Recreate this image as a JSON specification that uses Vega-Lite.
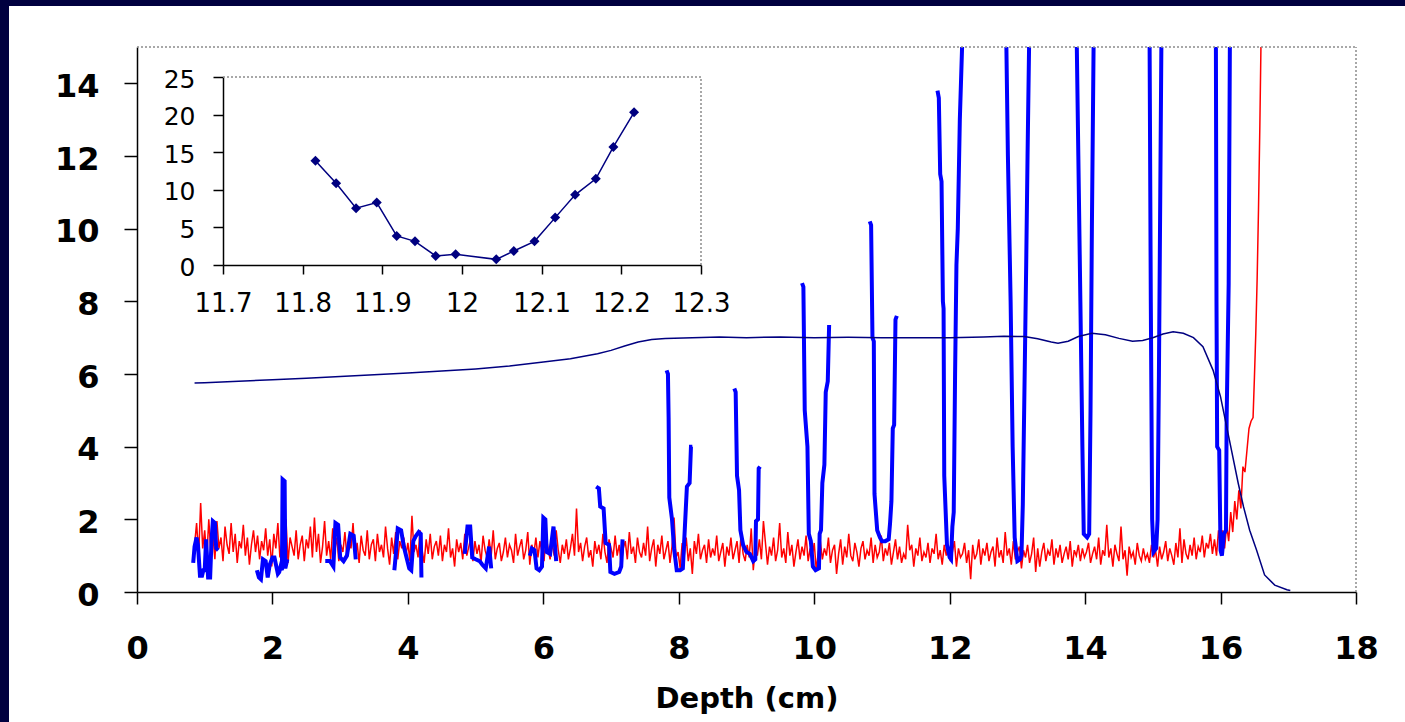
{
"$schema":"https://vega.github.io/schema/vega-lite/v6.json",
"width":1219,"height":545,"autosize":"none",
"padding":{"left":137,"top":47,"right":49,"bottom":130},
"background":"#ffffff",
"config":{"view":{"stroke":null},"axis":{"grid":false,"labelFont":"DejaVu Sans","titleFont":"DejaVu Sans","domainColor":"#000000","tickColor":"#000000","labelColor":"#000000","titleColor":"#000000","labelFlush":false,"labelOverlap":false}},
"datasets":{
"red":[
{"x":0.85,"y":1.3},{"x":0.88,"y":1.9},{"x":0.91,"y":1.0},{"x":0.94,"y":2.45},{"x":0.97,"y":1.2},{"x":1.0,"y":1.7},{"x":1.03,"y":0.9},{"x":1.06,"y":2.0},{"x":1.09,"y":1.1},{"x":1.12,"y":1.6},
{"x":1.15,"y":0.9},{"x":1.18,"y":1.95},{"x":1.21,"y":1.2},{"x":1.24,"y":1.5},{"x":1.27,"y":0.85},{"x":1.3,"y":1.8},{"x":1.33,"y":1.3},{"x":1.36,"y":1.05},{"x":1.39,"y":1.9},{"x":1.42,"y":1.1},
{"x":1.45,"y":1.6},{"x":1.48,"y":0.8},{"x":1.51,"y":1.4},{"x":1.54,"y":1.2},{"x":1.57,"y":1.85},{"x":1.6,"y":1.0},{"x":1.63,"y":1.5},{"x":1.66,"y":0.75},{"x":1.69,"y":1.3},{"x":1.72,"y":1.7},
{"x":1.75,"y":1.1},{"x":1.78,"y":1.55},{"x":1.81,"y":0.9},{"x":1.84,"y":1.4},{"x":1.87,"y":1.15},{"x":1.9,"y":1.75},{"x":1.93,"y":1.0},{"x":1.96,"y":1.45},{"x":1.99,"y":0.7},{"x":2.02,"y":1.6},
{"x":2.05,"y":1.2},{"x":2.08,"y":1.9},{"x":2.11,"y":0.95},{"x":2.14,"y":1.35},{"x":2.17,"y":1.1},{"x":2.2,"y":2.0},{"x":2.23,"y":0.8},{"x":2.26,"y":1.5},{"x":2.29,"y":1.25},{"x":2.32,"y":1.0},
{"x":2.35,"y":1.7},{"x":2.38,"y":0.9},{"x":2.41,"y":1.3},{"x":2.44,"y":1.55},{"x":2.47,"y":0.85},{"x":2.5,"y":1.45},{"x":2.53,"y":1.2},{"x":2.56,"y":1.8},{"x":2.59,"y":0.95},{"x":2.62,"y":2.05},
{"x":2.65,"y":1.1},{"x":2.68,"y":1.6},{"x":2.71,"y":0.8},{"x":2.74,"y":1.25},{"x":2.77,"y":1.95},{"x":2.8,"y":1.0},{"x":2.83,"y":1.4},{"x":2.86,"y":0.9},{"x":2.89,"y":1.75},{"x":2.92,"y":1.15},
{"x":2.95,"y":1.5},{"x":2.98,"y":0.85},{"x":3.01,"y":1.3},{"x":3.04,"y":1.1},{"x":3.07,"y":1.65},{"x":3.1,"y":0.95},{"x":3.13,"y":1.4},{"x":3.16,"y":1.2},{"x":3.19,"y":1.9},{"x":3.22,"y":1.0},
{"x":3.25,"y":1.35},{"x":3.28,"y":0.8},{"x":3.31,"y":1.55},{"x":3.34,"y":1.15},{"x":3.37,"y":1.0},{"x":3.4,"y":1.7},{"x":3.43,"y":0.9},{"x":3.46,"y":1.3},{"x":3.49,"y":1.45},{"x":3.52,"y":0.85},
{"x":3.55,"y":1.6},{"x":3.58,"y":1.1},{"x":3.61,"y":1.3},{"x":3.64,"y":0.95},{"x":3.67,"y":1.8},{"x":3.7,"y":1.2},{"x":3.73,"y":0.75},{"x":3.76,"y":1.5},{"x":3.79,"y":1.05},{"x":3.82,"y":1.65},
{"x":3.85,"y":0.9},{"x":3.88,"y":1.4},{"x":3.91,"y":1.2},{"x":3.94,"y":1.5},{"x":3.97,"y":1.0},{"x":4.0,"y":1.35},{"x":4.03,"y":0.85},{"x":4.06,"y":2.1},{"x":4.09,"y":1.1},{"x":4.12,"y":1.3},
{"x":4.15,"y":0.95},{"x":4.18,"y":1.7},{"x":4.21,"y":1.15},{"x":4.24,"y":0.8},{"x":4.27,"y":1.45},{"x":4.3,"y":1.05},{"x":4.33,"y":1.6},{"x":4.36,"y":0.9},{"x":4.39,"y":1.25},{"x":4.42,"y":1.4},
{"x":4.45,"y":1.0},{"x":4.48,"y":1.55},{"x":4.51,"y":0.85},{"x":4.54,"y":1.3},{"x":4.57,"y":1.1},{"x":4.6,"y":1.75},{"x":4.63,"y":0.95},{"x":4.66,"y":1.2},{"x":4.69,"y":0.7},{"x":4.72,"y":1.45},
{"x":4.75,"y":1.1},{"x":4.78,"y":1.35},{"x":4.81,"y":0.9},{"x":4.84,"y":1.6},{"x":4.87,"y":1.0},{"x":4.9,"y":1.25},{"x":4.93,"y":1.5},{"x":4.96,"y":0.85},{"x":4.99,"y":1.4},{"x":5.02,"y":1.05},
{"x":5.05,"y":1.3},{"x":5.08,"y":0.8},{"x":5.11,"y":1.55},{"x":5.14,"y":1.15},{"x":5.17,"y":0.95},{"x":5.2,"y":1.45},{"x":5.23,"y":1.0},{"x":5.26,"y":1.7},{"x":5.29,"y":0.9},{"x":5.32,"y":1.2},
{"x":5.35,"y":1.35},{"x":5.38,"y":0.85},{"x":5.41,"y":1.1},{"x":5.44,"y":1.5},{"x":5.47,"y":0.95},{"x":5.5,"y":1.3},{"x":5.53,"y":1.15},{"x":5.56,"y":0.8},{"x":5.59,"y":1.6},{"x":5.62,"y":1.0},
{"x":5.65,"y":1.25},{"x":5.68,"y":1.45},{"x":5.71,"y":0.9},{"x":5.74,"y":1.15},{"x":5.77,"y":1.65},{"x":5.8,"y":0.75},{"x":5.83,"y":1.3},{"x":5.86,"y":1.05},{"x":5.89,"y":1.5},{"x":5.92,"y":0.95},
{"x":5.95,"y":1.4},{"x":5.98,"y":1.1},{"x":6.01,"y":0.85},{"x":6.04,"y":1.55},{"x":6.07,"y":1.2},{"x":6.1,"y":0.9},{"x":6.13,"y":1.35},{"x":6.16,"y":1.0},{"x":6.19,"y":1.7},{"x":6.22,"y":1.15},
{"x":6.25,"y":0.8},{"x":6.28,"y":1.3},{"x":6.31,"y":1.05},{"x":6.34,"y":1.45},{"x":6.37,"y":0.9},{"x":6.4,"y":1.2},{"x":6.43,"y":1.6},{"x":6.46,"y":1.0},{"x":6.49,"y":2.3},{"x":6.52,"y":1.1},
{"x":6.55,"y":1.35},{"x":6.58,"y":0.85},{"x":6.61,"y":1.25},{"x":6.64,"y":1.5},{"x":6.67,"y":0.95},{"x":6.7,"y":1.15},{"x":6.73,"y":0.7},{"x":6.76,"y":1.4},{"x":6.79,"y":1.05},{"x":6.82,"y":1.3},
{"x":6.85,"y":0.9},{"x":6.88,"y":1.6},{"x":6.91,"y":1.1},{"x":6.94,"y":0.8},{"x":6.97,"y":1.45},{"x":7.0,"y":1.2},{"x":7.03,"y":0.95},{"x":7.06,"y":1.55},{"x":7.09,"y":1.0},{"x":7.12,"y":1.3},
{"x":7.15,"y":0.75},{"x":7.18,"y":1.2},{"x":7.21,"y":1.4},{"x":7.24,"y":0.9},{"x":7.27,"y":1.65},{"x":7.3,"y":1.05},{"x":7.33,"y":1.25},{"x":7.36,"y":0.8},{"x":7.39,"y":1.5},{"x":7.42,"y":1.1},
{"x":7.45,"y":0.95},{"x":7.48,"y":1.35},{"x":7.51,"y":1.0},{"x":7.54,"y":1.8},{"x":7.57,"y":0.85},{"x":7.6,"y":1.2},{"x":7.63,"y":1.45},{"x":7.66,"y":0.7},{"x":7.69,"y":1.3},{"x":7.72,"y":1.05},
{"x":7.75,"y":1.55},{"x":7.78,"y":0.9},{"x":7.81,"y":1.15},{"x":7.84,"y":1.4},{"x":7.87,"y":0.8},{"x":7.9,"y":1.25},{"x":7.93,"y":2.05},{"x":7.96,"y":0.95},{"x":7.99,"y":1.1},{"x":8.02,"y":0.65},
{"x":8.05,"y":1.35},{"x":8.08,"y":1.0},{"x":8.11,"y":1.5},{"x":8.14,"y":0.85},{"x":8.17,"y":1.2},{"x":8.2,"y":0.5},{"x":8.23,"y":1.4},{"x":8.26,"y":1.05},{"x":8.29,"y":1.6},{"x":8.32,"y":0.9},
{"x":8.35,"y":1.15},{"x":8.38,"y":1.3},{"x":8.41,"y":0.8},{"x":8.44,"y":1.45},{"x":8.47,"y":0.95},{"x":8.5,"y":1.2},{"x":8.53,"y":1.0},{"x":8.56,"y":1.55},{"x":8.59,"y":0.85},{"x":8.62,"y":1.1},
{"x":8.65,"y":1.35},{"x":8.68,"y":0.7},{"x":8.71,"y":1.25},{"x":8.74,"y":1.0},{"x":8.77,"y":1.5},{"x":8.8,"y":0.9},{"x":8.83,"y":1.15},{"x":8.86,"y":1.4},{"x":8.89,"y":0.8},{"x":8.92,"y":1.6},
{"x":8.95,"y":1.05},{"x":8.98,"y":0.85},{"x":9.01,"y":1.3},{"x":9.04,"y":0.95},{"x":9.07,"y":1.75},{"x":9.1,"y":0.6},{"x":9.13,"y":1.2},{"x":9.16,"y":1.0},{"x":9.19,"y":1.45},{"x":9.22,"y":0.9},
{"x":9.25,"y":1.95},{"x":9.28,"y":1.35},{"x":9.31,"y":0.75},{"x":9.34,"y":1.25},{"x":9.37,"y":1.0},{"x":9.4,"y":1.5},{"x":9.43,"y":0.85},{"x":9.46,"y":1.15},{"x":9.49,"y":1.9},{"x":9.52,"y":0.95},
{"x":9.55,"y":1.2},{"x":9.58,"y":0.8},{"x":9.61,"y":1.65},{"x":9.64,"y":1.0},{"x":9.67,"y":1.3},{"x":9.7,"y":0.7},{"x":9.73,"y":1.1},{"x":9.76,"y":1.45},{"x":9.79,"y":0.9},{"x":9.82,"y":1.25},
{"x":9.85,"y":1.0},{"x":9.88,"y":1.55},{"x":9.91,"y":0.85},{"x":9.94,"y":1.2},{"x":9.97,"y":0.95},{"x":10.0,"y":1.35},{"x":10.03,"y":0.6},{"x":10.06,"y":1.1},{"x":10.09,"y":1.4},{"x":10.12,"y":0.9},
{"x":10.15,"y":1.2},{"x":10.18,"y":1.0},{"x":10.21,"y":1.5},{"x":10.24,"y":0.8},{"x":10.27,"y":1.15},{"x":10.3,"y":1.3},{"x":10.33,"y":0.5},{"x":10.36,"y":1.05},{"x":10.39,"y":1.45},{"x":10.42,"y":0.75},
{"x":10.45,"y":1.25},{"x":10.48,"y":0.95},{"x":10.51,"y":1.6},{"x":10.54,"y":1.0},{"x":10.57,"y":0.85},{"x":10.6,"y":1.35},{"x":10.63,"y":1.1},{"x":10.66,"y":0.7},{"x":10.69,"y":1.2},{"x":10.72,"y":1.4},
{"x":10.75,"y":0.9},{"x":10.78,"y":1.15},{"x":10.81,"y":1.0},{"x":10.84,"y":1.5},{"x":10.87,"y":0.8},{"x":10.9,"y":1.3},{"x":10.93,"y":0.95},{"x":10.96,"y":1.1},{"x":10.99,"y":1.55},{"x":11.02,"y":0.85},
{"x":11.05,"y":1.2},{"x":11.08,"y":1.0},{"x":11.11,"y":1.35},{"x":11.14,"y":0.75},{"x":11.17,"y":1.1},{"x":11.2,"y":1.45},{"x":11.23,"y":0.9},{"x":11.26,"y":1.25},{"x":11.29,"y":0.8},{"x":11.32,"y":1.05},
{"x":11.35,"y":0.9},{"x":11.38,"y":1.85},{"x":11.41,"y":1.15},{"x":11.44,"y":1.3},{"x":11.47,"y":0.7},{"x":11.5,"y":1.2},{"x":11.53,"y":1.0},{"x":11.56,"y":1.5},{"x":11.59,"y":0.85},{"x":11.62,"y":1.1},
{"x":11.65,"y":0.95},{"x":11.68,"y":1.35},{"x":11.71,"y":0.8},{"x":11.74,"y":1.2},{"x":11.77,"y":1.05},{"x":11.8,"y":1.6},{"x":11.83,"y":0.9},{"x":11.86,"y":1.15},{"x":11.89,"y":0.75},{"x":11.92,"y":1.3},
{"x":11.95,"y":1.0},{"x":11.98,"y":1.25},{"x":12.01,"y":0.85},{"x":12.04,"y":1.1},{"x":12.07,"y":1.4},{"x":12.1,"y":0.7},{"x":12.13,"y":1.2},{"x":12.16,"y":0.95},{"x":12.19,"y":1.05},{"x":12.22,"y":1.35},
{"x":12.25,"y":0.8},{"x":12.28,"y":1.15},{"x":12.31,"y":0.35},{"x":12.34,"y":1.3},{"x":12.37,"y":0.9},{"x":12.4,"y":1.05},{"x":12.43,"y":1.45},{"x":12.46,"y":0.75},{"x":12.49,"y":1.2},{"x":12.52,"y":1.0},
{"x":12.55,"y":1.35},{"x":12.58,"y":0.85},{"x":12.61,"y":1.1},{"x":12.64,"y":1.25},{"x":12.67,"y":0.7},{"x":12.7,"y":1.5},{"x":12.73,"y":0.95},{"x":12.76,"y":1.15},{"x":12.79,"y":0.8},{"x":12.82,"y":1.65},
{"x":12.85,"y":1.0},{"x":12.88,"y":1.2},{"x":12.91,"y":0.75},{"x":12.94,"y":1.4},{"x":12.97,"y":0.9},{"x":13.0,"y":1.1},{"x":13.03,"y":1.25},{"x":13.06,"y":0.65},{"x":13.09,"y":1.15},{"x":13.12,"y":0.95},
{"x":13.15,"y":1.3},{"x":13.18,"y":0.8},{"x":13.21,"y":1.05},{"x":13.24,"y":1.5},{"x":13.27,"y":0.55},{"x":13.3,"y":1.2},{"x":13.33,"y":0.7},{"x":13.36,"y":1.1},{"x":13.39,"y":1.35},{"x":13.42,"y":0.85},
{"x":13.45,"y":1.15},{"x":13.48,"y":1.0},{"x":13.51,"y":1.45},{"x":13.54,"y":0.75},{"x":13.57,"y":1.2},{"x":13.6,"y":0.95},{"x":13.63,"y":1.3},{"x":13.66,"y":0.8},{"x":13.69,"y":1.05},{"x":13.72,"y":1.25},
{"x":13.75,"y":0.9},{"x":13.78,"y":1.4},{"x":13.81,"y":0.7},{"x":13.84,"y":1.15},{"x":13.87,"y":1.0},{"x":13.9,"y":1.3},{"x":13.93,"y":0.85},{"x":13.96,"y":1.2},{"x":13.99,"y":0.95},{"x":14.02,"y":1.1},
{"x":14.05,"y":1.35},{"x":14.08,"y":0.8},{"x":14.11,"y":1.05},{"x":14.14,"y":1.25},{"x":14.17,"y":0.9},{"x":14.2,"y":1.5},{"x":14.23,"y":0.75},{"x":14.26,"y":1.15},{"x":14.29,"y":1.0},{"x":14.32,"y":1.85},
{"x":14.35,"y":0.95},{"x":14.38,"y":1.2},{"x":14.41,"y":0.7},{"x":14.44,"y":1.3},{"x":14.47,"y":1.05},{"x":14.5,"y":0.85},{"x":14.53,"y":1.8},{"x":14.56,"y":0.9},{"x":14.59,"y":1.15},{"x":14.62,"y":0.45},
{"x":14.65,"y":1.25},{"x":14.68,"y":0.95},{"x":14.71,"y":1.1},{"x":14.74,"y":0.75},{"x":14.77,"y":1.35},{"x":14.8,"y":1.0},{"x":14.83,"y":0.85},{"x":14.86,"y":1.2},{"x":14.89,"y":0.9},{"x":14.92,"y":1.05},
{"x":14.95,"y":0.8},{"x":14.98,"y":1.3},{"x":15.01,"y":0.95},{"x":15.04,"y":1.15},{"x":15.07,"y":0.7},{"x":15.1,"y":1.25},{"x":15.13,"y":0.9},{"x":15.16,"y":1.1},{"x":15.19,"y":1.4},{"x":15.22,"y":0.85},
{"x":15.25,"y":1.2},{"x":15.28,"y":1.0},{"x":15.31,"y":0.75},{"x":15.34,"y":1.35},{"x":15.37,"y":0.95},{"x":15.4,"y":1.75},{"x":15.43,"y":0.8},{"x":15.46,"y":1.45},{"x":15.49,"y":1.05},{"x":15.52,"y":0.9},
{"x":15.55,"y":1.3},{"x":15.58,"y":1.0},{"x":15.61,"y":1.5},{"x":15.64,"y":0.9},{"x":15.67,"y":1.25},{"x":15.7,"y":1.1},{"x":15.73,"y":1.55},{"x":15.76,"y":0.95},{"x":15.79,"y":1.35},{"x":15.82,"y":1.2},
{"x":15.85,"y":1.6},{"x":15.88,"y":1.05},{"x":15.91,"y":1.45},{"x":15.94,"y":1.0},{"x":15.97,"y":1.7},
{"x":16.0,"y":1.25},{"x":16.03,"y":1.7},{"x":16.06,"y":1.2},{"x":16.09,"y":1.85},{"x":16.12,"y":1.4},{"x":16.15,"y":2.2},{"x":16.18,"y":1.65},{"x":16.21,"y":2.5},{"x":16.24,"y":2.0},{"x":16.27,"y":2.8},
{"x":16.3,"y":2.3},{"x":16.33,"y":3.45},{"x":16.36,"y":3.3},{"x":16.39,"y":3.9},{"x":16.42,"y":4.5},{"x":16.45,"y":4.7},{"x":16.48,"y":4.8},{"x":16.5,"y":5.9},{"x":16.52,"y":7.1},{"x":16.54,"y":8.6},
{"x":16.56,"y":10.5},{"x":16.58,"y":12.8},{"x":16.6,"y":15.5}
],
"blue":[
{"g":1,"x":0.83,"y":0.8},{"g":1,"x":0.85,"y":1.25},{"g":1,"x":0.88,"y":1.5},{"g":1,"x":0.9,"y":1.3},{"g":1,"x":0.93,"y":0.45},{"g":1,"x":0.96,"y":0.45},{"g":1,"x":0.98,"y":0.6},{"g":1,"x":1.0,"y":0.6},{"g":1,"x":1.02,"y":1.45},{"g":1,"x":1.05,"y":0.4},{"g":1,"x":1.08,"y":0.4},{"g":1,"x":1.1,"y":1.4},{"g":1,"x":1.12,"y":1.95},{"g":1,"x":1.15,"y":1.9},{"g":1,"x":1.17,"y":1.2},{"g":1,"x":1.2,"y":1.15},
{"g":2,"x":1.77,"y":0.6},{"g":2,"x":1.8,"y":0.4},{"g":2,"x":1.83,"y":0.35},{"g":2,"x":1.86,"y":0.9},{"g":2,"x":1.9,"y":0.85},{"g":2,"x":1.93,"y":0.4},{"g":2,"x":1.96,"y":0.75},{"g":2,"x":2.0,"y":0.95},{"g":2,"x":2.03,"y":0.95},{"g":2,"x":2.08,"y":0.5},{"g":2,"x":2.1,"y":0.55},{"g":2,"x":2.12,"y":0.7},{"g":2,"x":2.14,"y":0.6},{"g":2,"x":2.15,"y":3.1},{"g":2,"x":2.18,"y":3.05},{"g":2,"x":2.19,"y":0.65},{"g":2,"x":2.22,"y":0.9},
{"g":3,"x":2.78,"y":0.85},{"g":3,"x":2.85,"y":0.85},{"g":3,"x":2.9,"y":0.7},{"g":3,"x":2.93,"y":1.9},{"g":3,"x":2.97,"y":1.85},{"g":3,"x":3.0,"y":0.95},{"g":3,"x":3.05,"y":0.85},{"g":3,"x":3.1,"y":1.0},{"g":3,"x":3.15,"y":1.6},{"g":3,"x":3.2,"y":1.55},{"g":3,"x":3.23,"y":0.9},
{"g":4,"x":3.8,"y":0.6},{"g":4,"x":3.82,"y":1.0},{"g":4,"x":3.85,"y":1.75},{"g":4,"x":3.9,"y":1.7},{"g":4,"x":3.94,"y":1.25},{"g":4,"x":3.98,"y":0.95},{"g":4,"x":4.02,"y":0.65},{"g":4,"x":4.05,"y":0.6},{"g":4,"x":4.08,"y":1.4},{"g":4,"x":4.12,"y":1.55},{"g":4,"x":4.16,"y":1.65},{"g":4,"x":4.19,"y":1.6},{"g":4,"x":4.2,"y":0.4},
{"g":5,"x":4.84,"y":1.05},{"g":5,"x":4.88,"y":1.8},{"g":5,"x":4.92,"y":1.8},{"g":5,"x":4.95,"y":0.95},{"g":5,"x":5.0,"y":0.9},{"g":5,"x":5.06,"y":0.85},{"g":5,"x":5.1,"y":0.75},{"g":5,"x":5.15,"y":0.65},{"g":5,"x":5.2,"y":1.25},{"g":5,"x":5.23,"y":0.65},
{"g":6,"x":5.8,"y":1.0},{"g":6,"x":5.83,"y":1.2},{"g":6,"x":5.87,"y":1.15},{"g":6,"x":5.9,"y":0.65},{"g":6,"x":5.94,"y":0.6},{"g":6,"x":5.98,"y":0.7},{"g":6,"x":6.0,"y":2.05},{"g":6,"x":6.03,"y":2.0},{"g":6,"x":6.05,"y":1.1},{"g":6,"x":6.1,"y":1.05},{"g":6,"x":6.15,"y":1.8},{"g":6,"x":6.19,"y":0.85},
{"g":7,"x":6.78,"y":2.9},{"g":7,"x":6.82,"y":2.85},{"g":7,"x":6.84,"y":2.35},{"g":7,"x":6.89,"y":2.3},{"g":7,"x":6.92,"y":1.35},{"g":7,"x":6.97,"y":1.3},{"g":7,"x":6.99,"y":0.55},{"g":7,"x":7.05,"y":0.5},{"g":7,"x":7.12,"y":0.55},{"g":7,"x":7.15,"y":0.7},{"g":7,"x":7.17,"y":1.45},
{"g":8,"x":7.82,"y":6.1},{"g":8,"x":7.84,"y":6.0},{"g":8,"x":7.85,"y":4.8},{"g":8,"x":7.86,"y":2.6},{"g":8,"x":7.9,"y":2.0},{"g":8,"x":7.93,"y":1.2},{"g":8,"x":7.97,"y":0.6},{"g":8,"x":8.02,"y":0.6},{"g":8,"x":8.06,"y":0.65},{"g":8,"x":8.08,"y":1.4},{"g":8,"x":8.12,"y":2.9},{"g":8,"x":8.16,"y":3.0},{"g":8,"x":8.18,"y":4.0},{"g":8,"x":8.2,"y":4.0},
{"g":9,"x":8.82,"y":5.6},{"g":9,"x":8.84,"y":5.5},{"g":9,"x":8.86,"y":3.2},{"g":9,"x":8.89,"y":2.8},{"g":9,"x":8.91,"y":1.7},{"g":9,"x":8.95,"y":1.3},{"g":9,"x":9.0,"y":1.1},{"g":9,"x":9.05,"y":1.05},{"g":9,"x":9.1,"y":0.85},{"g":9,"x":9.13,"y":0.9},{"g":9,"x":9.14,"y":1.95},{"g":9,"x":9.17,"y":2.0},{"g":9,"x":9.18,"y":3.4},{"g":9,"x":9.2,"y":3.45},
{"g":10,"x":9.82,"y":8.5},{"g":10,"x":9.84,"y":8.4},{"g":10,"x":9.86,"y":5.0},{"g":10,"x":9.9,"y":4.0},{"g":10,"x":9.92,"y":1.6},{"g":10,"x":9.95,"y":1.4},{"g":10,"x":9.98,"y":0.7},{"g":10,"x":10.02,"y":0.6},{"g":10,"x":10.07,"y":0.65},{"g":10,"x":10.08,"y":1.6},{"g":10,"x":10.1,"y":1.7},{"g":10,"x":10.12,"y":3.0},{"g":10,"x":10.15,"y":3.5},{"g":10,"x":10.17,"y":5.5},{"g":10,"x":10.2,"y":5.8},{"g":10,"x":10.22,"y":7.35},
{"g":11,"x":10.82,"y":10.2},{"g":11,"x":10.84,"y":10.1},{"g":11,"x":10.86,"y":7.0},{"g":11,"x":10.88,"y":6.9},{"g":11,"x":10.89,"y":2.7},{"g":11,"x":10.93,"y":1.7},{"g":11,"x":10.97,"y":1.5},{"g":11,"x":11.0,"y":1.4},{"g":11,"x":11.05,"y":1.4},{"g":11,"x":11.1,"y":1.45},{"g":11,"x":11.12,"y":1.9},{"g":11,"x":11.14,"y":2.5},{"g":11,"x":11.16,"y":4.5},{"g":11,"x":11.18,"y":4.6},{"g":11,"x":11.2,"y":7.5},{"g":11,"x":11.22,"y":7.6},
{"g":12,"x":11.82,"y":13.8},{"g":12,"x":11.84,"y":13.6},{"g":12,"x":11.86,"y":11.5},{"g":12,"x":11.88,"y":11.3},{"g":12,"x":11.9,"y":8.0},{"g":12,"x":11.91,"y":7.8},{"g":12,"x":11.92,"y":3.2},{"g":12,"x":11.96,"y":1.3},{"g":12,"x":12.0,"y":0.95},{"g":12,"x":12.02,"y":0.9},{"g":12,"x":12.04,"y":1.8},{"g":12,"x":12.06,"y":2.2},{"g":12,"x":12.08,"y":6.0},{"g":12,"x":12.1,"y":9.0},{"g":12,"x":12.12,"y":10.0},{"g":12,"x":12.15,"y":13.0},{"g":12,"x":12.2,"y":16},
{"g":13,"x":12.83,"y":16},{"g":13,"x":12.86,"y":12},{"g":13,"x":12.9,"y":8},{"g":13,"x":12.93,"y":4},{"g":13,"x":12.96,"y":1.5},{"g":13,"x":13.0,"y":0.85},{"g":13,"x":13.04,"y":0.9},{"g":13,"x":13.06,"y":1.0},{"g":13,"x":13.08,"y":2.4},{"g":13,"x":13.1,"y":5},{"g":13,"x":13.13,"y":9},{"g":13,"x":13.15,"y":12},{"g":13,"x":13.18,"y":16},
{"g":14,"x":13.87,"y":16},{"g":14,"x":13.9,"y":12},{"g":14,"x":13.93,"y":8},{"g":14,"x":13.96,"y":4},{"g":14,"x":13.98,"y":1.6},{"g":14,"x":14.03,"y":1.5},{"g":14,"x":14.06,"y":1.6},{"g":14,"x":14.08,"y":5},{"g":14,"x":14.1,"y":10},{"g":14,"x":14.13,"y":16},
{"g":15,"x":14.95,"y":16},{"g":15,"x":14.97,"y":8},{"g":15,"x":14.99,"y":2},{"g":15,"x":15.01,"y":1.1},{"g":15,"x":15.05,"y":1.2},{"g":15,"x":15.07,"y":2.0},{"g":15,"x":15.09,"y":6},{"g":15,"x":15.11,"y":11},{"g":15,"x":15.13,"y":16},
{"g":16,"x":15.93,"y":16},{"g":16,"x":15.94,"y":8},{"g":16,"x":15.95,"y":4.0},{"g":16,"x":15.98,"y":3.9},{"g":16,"x":16.0,"y":1.15},{"g":16,"x":16.02,"y":1.0},{"g":16,"x":16.05,"y":1.6},{"g":16,"x":16.08,"y":1.7},{"g":16,"x":16.09,"y":4.8},{"g":16,"x":16.12,"y":8.5},{"g":16,"x":16.14,"y":16}
],
"navy":[
{"x":0.85,"y":5.75},{"x":1.0,"y":5.76},{"x":1.5,"y":5.8},{"x":2.0,"y":5.84},{"x":2.5,"y":5.88},{"x":3.0,"y":5.93},{"x":3.5,"y":5.98},{"x":4.0,"y":6.03},{"x":4.5,"y":6.08},{"x":5.0,"y":6.14},{"x":5.5,"y":6.22},{"x":6.0,"y":6.33},{"x":6.4,"y":6.42},{"x":6.8,"y":6.56},{"x":7.0,"y":6.65},{"x":7.2,"y":6.77},{"x":7.4,"y":6.88},{"x":7.6,"y":6.95},{"x":7.8,"y":6.98},{"x":8.2,"y":7.0},{"x":8.6,"y":7.02},{"x":9.0,"y":7.0},{"x":9.5,"y":7.02},{"x":10.0,"y":7.0},{"x":10.5,"y":7.01},{"x":11.0,"y":7.0},{"x":11.5,"y":7.0},{"x":12.0,"y":7.0},{"x":12.5,"y":7.02},{"x":12.8,"y":7.04},{"x":13.1,"y":7.03},{"x":13.3,"y":6.97},{"x":13.5,"y":6.88},{"x":13.6,"y":6.85},{"x":13.75,"y":6.9},{"x":13.9,"y":7.03},{"x":14.1,"y":7.12},{"x":14.3,"y":7.08},{"x":14.5,"y":6.98},{"x":14.7,"y":6.9},{"x":14.85,"y":6.92},{"x":15.0,"y":7.0},{"x":15.15,"y":7.1},{"x":15.3,"y":7.16},{"x":15.45,"y":7.12},{"x":15.6,"y":7.0},{"x":15.74,"y":6.75},{"x":15.89,"y":6.1},{"x":16.0,"y":5.37},{"x":16.14,"y":4.1},{"x":16.26,"y":3.0},{"x":16.34,"y":2.34},{"x":16.43,"y":1.7},{"x":16.53,"y":1.16},{"x":16.65,"y":0.47},{"x":16.8,"y":0.19},{"x":16.98,"y":0.06},{"x":17.03,"y":0.04}
],
"inset":[
{"x":11.816,"y":13.85},{"x":11.842,"y":10.88},{"x":11.867,"y":7.55},{"x":11.893,"y":8.3},{"x":11.918,"y":3.86},{"x":11.941,"y":3.15},{"x":11.967,"y":1.2},{"x":11.992,"y":1.42},{"x":12.043,"y":0.75},{"x":12.065,"y":1.86},{"x":12.091,"y":3.15},{"x":12.117,"y":6.3},{"x":12.142,"y":9.33},{"x":12.168,"y":11.46},{"x":12.19,"y":15.7},{"x":12.216,"y":20.3}
]
},
"layer":[
 {"data":{"name":"red"},"mark":{"type":"line","color":"#ff0000","strokeWidth":1.5,"clip":true},
  "encoding":{
   "x":{"field":"x","type":"quantitative","scale":{"domain":[0,18],"nice":false,"zero":false},
        "axis":{"orient":"bottom","title":"Depth (cm)","titleFontSize":29,"titleFontWeight":"bold","titleY":115,"titleBaseline":"alphabetic","values":[0,2,4,6,8,10,12,14,16,18],"labelFontSize":32,"labelFontWeight":"bold","tickSize":12,"labelPadding":29,"domainWidth":1.5,"tickWidth":1.5}},
   "y":{"field":"y","type":"quantitative","scale":{"domain":[0,15],"nice":false,"zero":false},
        "axis":{"orient":"left","title":null,"values":[0,2,4,6,8,10,12,14],"labelFontSize":32,"labelFontWeight":"bold","tickSize":13,"labelPadding":25,"labelOffset":3,"domainWidth":1.5,"tickWidth":1.5}}}},
 {"data":{"name":"inset"},"mark":{"type":"line","color":"#000080","strokeWidth":1.5,"point":{"shape":"diamond","size":100,"filled":true,"color":"#000080"}},
  "encoding":{
   "x":{"field":"x","type":"quantitative","scale":{"domain":[11.7,12.3],"range":[86,564],"nice":false,"zero":false},
        "axis":{"orient":"bottom","offset":-327,"title":null,"values":[11.7,11.8,11.9,12,12.1,12.2,12.3],"format":"~g","labelFontSize":26,"tickSize":9,"labelPadding":16,"domainWidth":1.5,"tickWidth":1.5}},
   "y":{"field":"y","type":"quantitative","scale":{"domain":[0,25],"range":[218,30],"nice":false,"zero":false},
        "axis":{"orient":"left","offset":-86,"title":null,"values":[0,5,10,15,20,25],"labelFontSize":25,"tickSize":10,"labelPadding":18,"labelOffset":2,"domainWidth":1.5,"tickWidth":1.5}}}},
 {"data":{"name":"blue"},"mark":{"type":"line","color":"#0000ff","strokeWidth":4,"clip":true},
  "encoding":{"x":{"field":"x","type":"quantitative","scale":{"domain":[0,18],"nice":false,"zero":false},"axis":null},"y":{"field":"y","type":"quantitative","scale":{"domain":[0,15],"nice":false,"zero":false},"axis":null},"detail":{"field":"g","type":"nominal"}}},
 {"data":{"name":"navy"},"mark":{"type":"line","color":"#000080","strokeWidth":1.5,"clip":true},
  "encoding":{"x":{"field":"x","type":"quantitative","scale":{"domain":[0,18],"nice":false,"zero":false},"axis":null},"y":{"field":"y","type":"quantitative","scale":{"domain":[0,15],"nice":false,"zero":false},"axis":null}}},
 {"data":{"values":[{}]},"mark":{"type":"rect","fill":"#00003f","clip":false},
  "encoding":{"x":{"datum":-2.2,"type":"quantitative","scale":{"domain":[0,18],"nice":false,"zero":false},"axis":null},"x2":{"datum":18.9},
   "y":{"datum":16.13,"type":"quantitative","scale":{"domain":[0,15],"nice":false,"zero":false},"axis":null},"y2":{"datum":16.5}}},
 {"data":{"values":[{}]},"mark":{"type":"rect","fill":"#00003f","clip":false},
  "encoding":{"x":{"datum":-2.2,"type":"quantitative","scale":{"domain":[0,18],"nice":false,"zero":false},"axis":null},"x2":{"datum":-1.89},
   "y":{"datum":-3.8,"type":"quantitative","scale":{"domain":[0,15],"nice":false,"zero":false},"axis":null},"y2":{"datum":16.5}}},
 {"data":{"values":[{}]},"mark":{"type":"rule","stroke":"#8c8c8c","strokeWidth":1.5,"strokeDash":[2,2]},
  "encoding":{"x":{"datum":0,"type":"quantitative","scale":{"domain":[0,18],"nice":false,"zero":false},"axis":null},"x2":{"datum":18},
   "y":{"datum":15,"type":"quantitative","scale":{"domain":[0,15],"nice":false,"zero":false},"axis":null}}},
 {"data":{"values":[{}]},"mark":{"type":"rule","stroke":"#8c8c8c","strokeWidth":1.5,"strokeDash":[2,2]},
  "encoding":{"x":{"datum":18,"type":"quantitative","scale":{"domain":[0,18],"nice":false,"zero":false},"axis":null},
   "y":{"datum":0,"type":"quantitative","scale":{"domain":[0,15],"nice":false,"zero":false},"axis":null},"y2":{"datum":15}}},
 {"data":{"values":[{}]},"mark":{"type":"rule","stroke":"#8c8c8c","strokeWidth":1.5,"strokeDash":[2,2]},
  "encoding":{"x":{"datum":11.7,"type":"quantitative","scale":{"domain":[11.7,12.3],"range":[86,564],"nice":false,"zero":false},"axis":null},"x2":{"datum":12.3},
   "y":{"datum":25,"type":"quantitative","scale":{"domain":[0,25],"range":[218,30],"nice":false,"zero":false},"axis":null}}},
 {"data":{"values":[{}]},"mark":{"type":"rule","stroke":"#8c8c8c","strokeWidth":1.5,"strokeDash":[2,2]},
  "encoding":{"x":{"datum":12.3,"type":"quantitative","scale":{"domain":[11.7,12.3],"range":[86,564],"nice":false,"zero":false},"axis":null},
   "y":{"datum":0,"type":"quantitative","scale":{"domain":[0,25],"range":[218,30],"nice":false,"zero":false},"axis":null},"y2":{"datum":25}}}
],
"resolve":{"scale":{"x":"independent","y":"independent"},"axis":{"x":"independent","y":"independent"}}
}
